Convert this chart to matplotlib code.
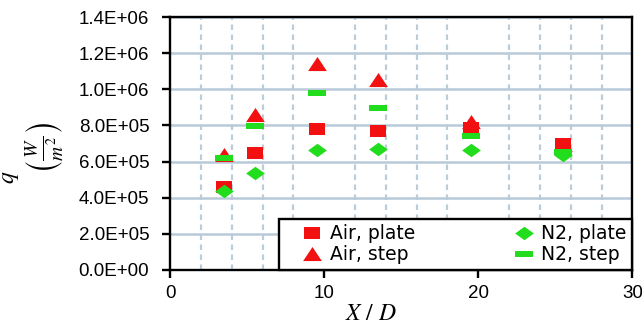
import matplotlib
matplotlib.use("Agg")
import matplotlib.pyplot as plt
from matplotlib.ticker import FuncFormatter, MultipleLocator

# values
x_d = [3.5, 5.5, 9.5, 13.5, 19.5, 25.5]
air_plate = [4.57e5, 6.50e5, 7.78e5, 7.68e5, 7.86e5, 6.98e5]
air_step = [6.35e5, 8.57e5, 1.14e6, 1.05e6, 8.20e5, 6.90e5]
n2_plate = [4.35e5, 5.37e5, 6.67e5, 6.70e5, 6.67e5, 6.37e5]
n2_step = [6.20e5, 7.96e5, 9.81e5, 8.98e5, 7.44e5, 6.55e5]
labels = ["Air, plate", "Air, step", "N2, plate", "N2, step"]

plt.rcParams['font.family'] = ['Liberation Sans', 'DejaVu Sans']
plt.rcParams['mathtext.fontset'] = 'stix'

red = '#F31010'
green = '#22DD1E'
# the source image is a bit stretched sideways, so are its markers
square = [(-1, -0.75), (1, -0.75), (1, 0.75), (-1, 0.75)]
tri = [(0, 0.8), (-1, -0.7), (1, -0.7)]
diamond = [(-1, 0), (0, 0.72), (1, 0), (0, -0.72)]
bar = [(-1, -0.28), (1, -0.28), (1, 0.28), (-1, 0.28)]

fig = plt.figure(figsize=(6.42, 3.30), dpi=100)
ax = fig.add_axes([0.265, 0.182, 0.72, 0.766])

ax.plot(x_d, air_plate, marker=square, ls='none', color=red, ms=12, mew=0, label=labels[0], zorder=3)
ax.plot(x_d, air_step, marker=tri, ls='none', color=red, ms=13.5, mew=0, label=labels[1], zorder=3)
ax.plot(x_d, n2_plate, marker=diamond, ls='none', color=green, ms=13.5, mew=0, label=labels[2], zorder=3)
ax.plot(x_d, n2_step, marker=bar, ls='none', color=green, ms=13.5, mew=0, label=labels[3], zorder=3)

ax.set_xlim(0, 30)
ax.set_ylim(0, 1.4e6)
ax.xaxis.set_major_locator(MultipleLocator(10))
ax.xaxis.set_minor_locator(MultipleLocator(2))
ax.yaxis.set_major_locator(MultipleLocator(2e5))
ax.yaxis.set_major_formatter(FuncFormatter(lambda v, p: f"{v:.1E}"))

ax.grid(True, which='major', axis='y', color='#B8CADA', lw=1.8)
ax.grid(True, which='minor', axis='x', color='#BCCDD8', lw=1.6, ls=(0, (2.5, 2)))
ax.set_axisbelow(True)

for s in ax.spines.values():
    s.set_linewidth(1.7)
ax.tick_params(which='major', direction='out', length=6, width=1.7, labelsize=13.5)
ax.tick_params(axis='y', pad=9)
ax.tick_params(axis='x', pad=5)
ax.tick_params(which='minor', length=0)

ax.set_xlabel('$X\\ /\\ D$', fontsize=17, labelpad=0)
ax.xaxis.set_label_coords(0.435, -0.13)
# y label: q and the unit stacked side by side, as in the source
fig.text(0.016, 0.462, '$q$', fontsize=17, rotation=90, ha='center', va='center')
fig.text(0.071, 0.55, '$\\left(\\frac{W}{m^2}\\right)$', fontsize=20, rotation=90,
         ha='center', va='center')

x0 = (279 - 170) / 462
leg = ax.legend(ncol=2, loc='lower left', bbox_to_anchor=(x0, 0, 1 - x0, 0.2),
                mode='expand', borderaxespad=0, fancybox=False,
                edgecolor='black', framealpha=1,
                prop={'family': ['DejaVu Sans'], 'size': 13.5},
                handlelength=2.9, handletextpad=-0.5, columnspacing=1.0,
                labelspacing=0.1, borderpad=0.3)
leg.get_frame().set_linewidth(1.7)
leg.set_zorder(5)

fig.savefig('out.png', dpi=100)
